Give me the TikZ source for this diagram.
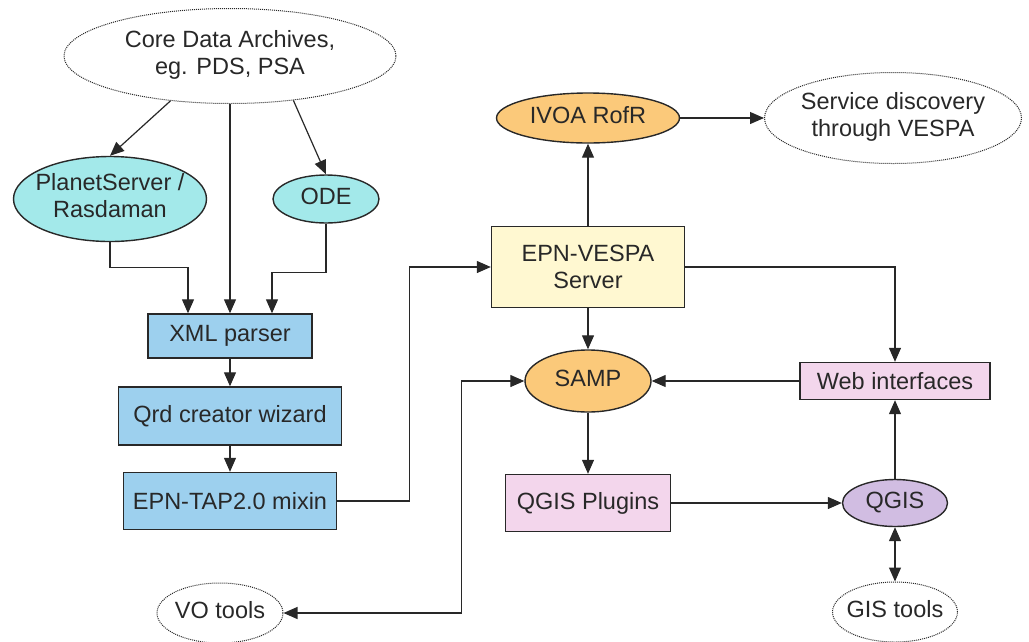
\documentclass[tikz,border=0pt]{standalone}
\usepackage{fontspec}
\setmainfont{Liberation Sans}
\usepackage{tikz}
\usetikzlibrary{arrows.meta}
\usetikzlibrary{shapes.geometric}

\definecolor{inkgray}{RGB}{40,40,40}
\definecolor{ovalcyan}{RGB}{163,233,234}
\definecolor{boxblue}{RGB}{157,208,238}
\definecolor{boxyellow}{RGB}{255,248,209}
\definecolor{ovalorange}{RGB}{251,201,122}
\definecolor{boxpink}{RGB}{243,214,236}
\definecolor{ovalpurple}{RGB}{209,189,226}

\newcommand{\ovaltext}[1]{\makebox[0pt]{\begin{tabular}{@{}c@{}}#1\end{tabular}}}

\begin{document}
\begin{tikzpicture}[->,>={Triangle[length=14pt,width=12pt]},x=1pt,y=-1pt,line width=1.2pt,inkgray,font=\fontsize{23.5}{27}\selectfont,box node/.style={rectangle,draw,line width=1.4pt,inner sep=0pt,align=center},oval node/.style={ellipse,draw,line width=1.4pt,inner sep=0pt},open node/.style={ellipse,draw,densely dotted,line width=1pt,inner sep=0pt}]

	\useasboundingbox (0,0) rectangle (1029,641);

	\node[open node,minimum width=332pt,minimum height=95pt] (core) at (230,56) {\ovaltext{Core Data Archives,\\eg. PDS, PSA}};
	\node[oval node,fill=ovalcyan,minimum width=193pt,minimum height=85pt] (ps) at (110,199) {\ovaltext{PlanetServer /\\Rasdaman}};
	\node[oval node,fill=ovalcyan,minimum width=106pt,minimum height=48pt] (ode) at (326,199) {\ovaltext{ODE}};
	\node[box node,fill=boxblue,minimum width=164pt,minimum height=44pt] (xml) at (230,336) {XML parser};
	\node[box node,fill=boxblue,minimum width=223pt,minimum height=58pt] (qrd) at (230,416) {Qrd creator wizard};
	\node[box node,fill=boxblue,minimum width=213pt,minimum height=57pt] (tap) at (230,501) {EPN-TAP2.0 mixin};
	\node[open node,minimum width=126pt,minimum height=60pt] (vo) at (220,613) {\ovaltext{VO tools}};

	\node[oval node,fill=ovalorange,minimum width=183pt,minimum height=50pt] (ivoa) at (588,118) {\ovaltext{IVOA RofR}};
	\node[open node,minimum width=257pt,minimum height=91pt] (disc) at (893,118) {\ovaltext{Service discovery\\through VESPA}};
	\node[box node,fill=boxyellow,minimum width=193pt,minimum height=81pt] (vespa) at (588,267) {EPN-VESPA\\Server};
	\node[oval node,fill=ovalorange,minimum width=126pt,minimum height=62pt] (samp) at (588,381) {\ovaltext{SAMP}};
	\node[box node,fill=boxpink,minimum width=190pt,minimum height=37pt] (web) at (895,381) {Web interfaces};
	\node[box node,fill=boxpink,minimum width=165pt,minimum height=57pt] (plug) at (588,503) {QGIS Plugins};
	\node[oval node,fill=ovalpurple,minimum width=105pt,minimum height=47pt] (qgis) at (895,503) {\ovaltext{QGIS}};
	\node[open node,minimum width=125pt,minimum height=60pt] (gis) at (895,612) {\ovaltext{GIS tools}};

	\path
	(core.217) edge (ps.north)
	(core.south) edge (xml.north)
	(core.325) edge (ode.north)
	(xml) edge (qrd)
	(qrd) edge (tap)
	(vespa) edge (ivoa)
	(ivoa) edge (disc)
	(vespa) edge (samp)
	(web) edge (samp)
	(samp) edge (plug)
	(plug) edge (qgis)
	(qgis) edge (web)
	(qgis) edge[<->] (gis);

	\draw (ps.south) -- ++(0,25) -| ([xshift=-42pt]xml.north);
	\draw (ode.south) -- ++(0,49) -| ([xshift=42pt]xml.north);
	\draw (tap.east) -- ++(72,0) |- (vespa.west);
	\draw (vespa.east) -| (web.north);
	\draw[<->] (vo.east) -- ++(178,0) |- (samp.west);

\end{tikzpicture}
\end{document}
